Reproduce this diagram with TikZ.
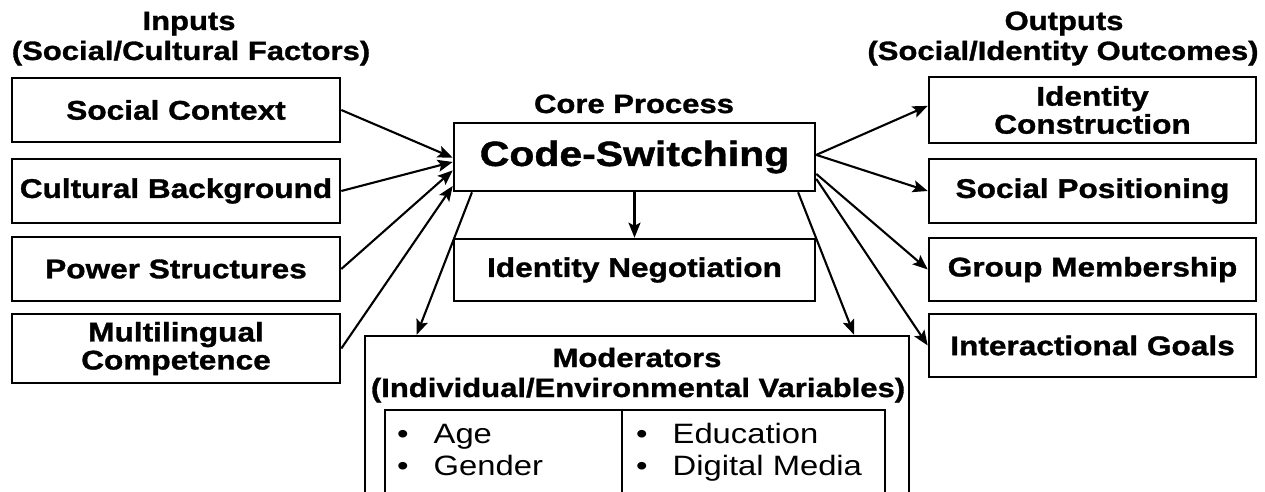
\documentclass[tikz,border=0pt]{standalone}
\usepackage{fontspec}
\setmainfont{Liberation Sans}[FakeStretch=1.17, BoldFeatures={FakeBold=1.2}]
\usetikzlibrary{arrows.meta,calc}

\begin{document}
\begin{tikzpicture}[x=1pt,y=-1pt,
  box/.style={draw,line width=2.6pt,inner sep=0pt,align=center,
    font=\fontsize{27}{28}\selectfont\bfseries},
  title/.style={inner sep=0pt,anchor=base,font=\fontsize{26.5}{30}\selectfont\bfseries},
  item/.style={inner sep=0pt,anchor=base west,font=\fontsize{28}{30}\selectfont},
  arr/.style={line width=2.1pt,-{Stealth[length=15pt,width=12pt,inset=3pt]}}]

\clip (0,0) rectangle (1265,492);
\fill[white] (0,0) rectangle (1265,492);

% column headings
\node[title] (inA) at (189,30) {Inputs};
\node[title] (inB) at (191,60) {(Social/Cultural Factors)};
\node[title] (outA) at (1064,30) {Outputs};
\node[title] (outB) at (1063,60) {(Social/Identity Outcomes)};
\node[title] (coreT) at (634,113) {Core Process};

% inputs
\node[box,minimum width=328pt,minimum height=64pt] (sc) at (176,110) {Social Context};
\node[box,minimum width=328pt,minimum height=64pt] (cb) at (176,191) {Cultural Background};
\node[box,minimum width=328pt,minimum height=64pt] (ps) at (176,269) {Power Structures};
\node[box,minimum width=328pt,minimum height=69pt] (mc) at (176,348.5) {Multilingual\\Competence};

% outputs
\node[box,minimum width=327pt,minimum height=66pt] (ic) at (1092.5,110) {Identity\\Construction};
\node[box,minimum width=327pt,minimum height=64pt] (sp) at (1092.5,191) {Social Positioning};
\node[box,minimum width=327pt,minimum height=63pt] (gm) at (1092.5,269.5) {Group Membership};
\node[box,minimum width=327pt,minimum height=63pt] (ig) at (1092.5,345.5) {Interactional Goals};

% core process
\node[box,minimum width=361pt,minimum height=68pt,font=\fontsize{35}{36}\selectfont\bfseries]
  (cs) at (634.5,157) {Code-Switching};
\node[box,minimum width=361pt,minimum height=62pt] (idn) at (634.5,270) {Identity Negotiation};

% moderators
\node[box,minimum width=544pt,minimum height=200pt] (mod) at (637,436) {};
\node[title] (modA) at (637,367) {Moderators};
\node[title] (modB) at (638,397) {(Individual/Environmental Variables)};
\node[draw,line width=2.6pt,inner sep=0pt,minimum width=500pt,minimum height=110pt]
  (modlist) at (635,465) {};
\coordinate (divtop) at ($(modlist.north west)!0.474!(modlist.north east)$);
\coordinate (divbot) at ($(modlist.south west)!0.474!(modlist.south east)$);
\draw[line width=2.6pt] (divtop) -- (divbot);
\node[item] (age) at (397,443) {•\kern 25pt Age};
\node[item] (gen) at (397,475) {•\kern 25pt Gender};
\node[item] (edu) at (636,443) {•\kern 25pt Education};
\node[item] (dig) at (636,475) {•\kern 25pt Digital Media};

% inputs into the core
\draw[arr] (sc.east) -- ($(cs.north west)!0.51!(cs.south west)$);
\draw[arr] (cb.east) -- ($(cs.north west)!0.57!(cs.south west)$);
\draw[arr] (ps.east) -- ($(cs.north west)!0.69!(cs.south west)$);
\draw[arr] (mc.east) -- ($(cs.north west)!0.91!(cs.south west)$);

% core to outcomes
\draw[arr] ($(cs.north east)!0.47!(cs.south east)$) -- ($(ic.north west)!0.44!(ic.south west)$);
\draw[arr] ($(cs.north east)!0.47!(cs.south east)$) -- (sp.west);
\draw[arr] ($(cs.north east)!0.74!(cs.south east)$) -- (gm.west);
\draw[arr] ($(cs.north east)!0.81!(cs.south east)$) -- (ig.west);

% core to negotiation and moderators
\draw[arr] (cs.south) -- (idn.north);
\draw[arr] ($(cs.south west)!0.053!(cs.south east)$) -- ($(mod.north west)!0.097!(mod.north east)$);
\draw[arr] ($(cs.south west)!0.95!(cs.south east)$) -- ($(mod.north west)!0.897!(mod.north east)$);
\end{tikzpicture}
\end{document}
